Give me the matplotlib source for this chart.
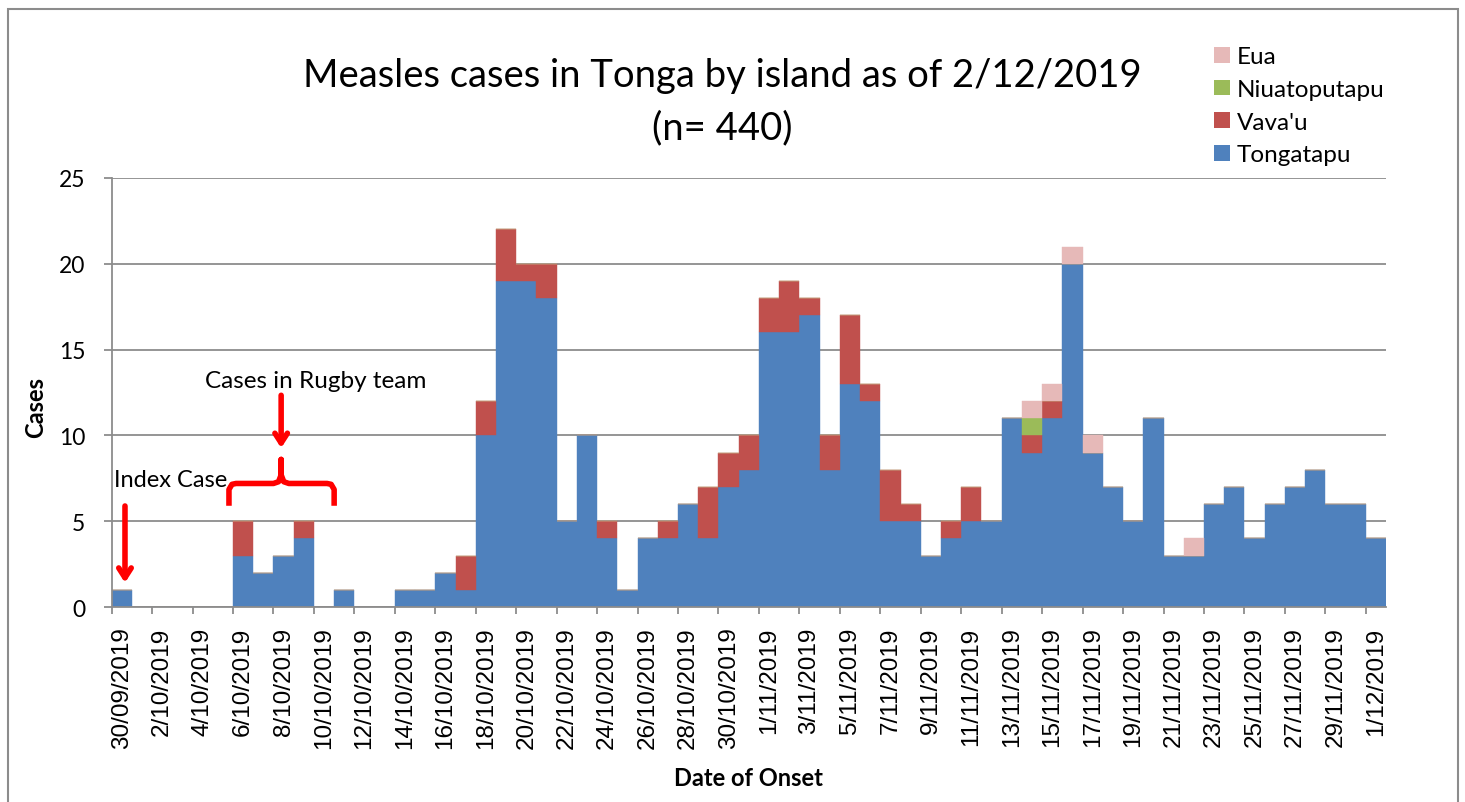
import matplotlib
matplotlib.use("Agg")
import matplotlib.pyplot as plt
from matplotlib.patches import Patch, Rectangle
import numpy as np
import pandas as pd

# ---------------- data (cases per day of onset, 30/09/2019 .. 1/12/2019) ----------------
dates = pd.date_range("2019-09-30", "2019-12-01", freq="D")
date_labels = [f"{d.day}/{d.month:02d}/{d.year}" for d in dates]

tongatapu = [1, 0, 0, 0, 0, 0, 3, 2, 3, 4, 0, 1, 0, 0, 1, 1, 2, 1, 10, 19,
             19, 18, 5, 10, 4, 1, 4, 4, 6, 4, 7, 8, 16, 16, 17, 8, 13, 12, 5, 5,
             3, 4, 5, 5, 11, 9, 11, 20, 9, 7, 5, 11, 3, 3, 6, 7, 4, 6, 7, 8,
             6, 6, 4]
vavau = [0, 0, 0, 0, 0, 0, 2, 0, 0, 1, 0, 0, 0, 0, 0, 0, 0, 2, 2, 3,
         1, 2, 0, 0, 1, 0, 0, 1, 0, 3, 2, 2, 2, 3, 1, 2, 4, 1, 3, 1,
         0, 1, 2, 0, 0, 1, 1, 0, 0, 0, 0, 0, 0, 0, 0, 0, 0, 0, 0, 0,
         0, 0, 0]
niuatoputapu = [0] * 63
niuatoputapu[45] = 1
eua = [0] * 63
eua[45] = 1
eua[46] = 1
eua[47] = 1
eua[48] = 1
eua[53] = 1

series_names = ["Tongatapu", "Vava'u", "Niuatoputapu", "Eua"]
series_vals = [tongatapu, vavau, niuatoputapu, eua]
series_cols = ["#4F81BD", "#C0504D", "#9BBB59", "#E6B9B8"]

# ---------------- figure ----------------
fig = plt.figure(figsize=(14.65, 8.03), dpi=100)
ax = fig.add_axes([0.0762, 0.2428, 0.8699, 0.5343])

x = np.arange(len(dates))
bottom = np.zeros(len(dates))
for name, vals, col in zip(series_names, series_vals, series_cols):
    vals = np.array(vals)
    ax.bar(x, vals, width=1.0, bottom=bottom, color=col, edgecolor=col,
           linewidth=0.3, label=name, zorder=3)
    bottom += vals

ax.set_xlim(-0.5, len(dates) - 0.5)
ax.set_ylim(0, 25)
ax.set_yticks([0, 5, 10, 15, 20, 25])
ax.yaxis.grid(True, color="#8C8C8C", linewidth=1.3, zorder=0)
ax.set_axisbelow(True)

for s in ["top", "right"]:
    ax.spines[s].set_visible(False)
for s in ["left", "bottom"]:
    ax.spines[s].set_color("#8C8C8C")
    ax.spines[s].set_linewidth(1.3)
    ax.spines[s].set_zorder(4)

# major ticks = marks between every 2 days, minor ticks = date labels
ax.set_xticks(np.arange(-0.5, len(dates) - 1, 2))
ax.set_xticklabels([])
ax.set_xticks(x[::2], minor=True)
ax.set_xticklabels(date_labels[::2], minor=True, rotation=90,
                   fontfamily="Liberation Sans", fontsize=17.5)
ax.tick_params(axis="x", which="major", length=5, width=1.3, color="#8C8C8C")
ax.tick_params(axis="x", which="minor", length=0, pad=14)
ax.tick_params(axis="y", length=6, width=1.3, color="#8C8C8C", pad=13,
               labelsize=16.5)
for t in ax.get_yticklabels():
    t.set_fontfamily("Lato")

fig.text(36 / 1465, 1 - 408 / 803, "Cases", rotation=90, ha="center",
         va="center", fontfamily="Lato", fontweight="bold", fontsize=17)
ax.set_xlabel("Date of Onset", fontfamily="Lato", fontweight="bold",
              fontsize=17, labelpad=13)

# title
fig.text(0.493, 0.905, "Measles cases in Tonga by island as of 2/12/2019",
         ha="center", va="center", fontfamily="Lato", fontsize=27.5)
fig.text(0.493, 0.84, "(n= 440)", ha="center", va="center",
         fontfamily="Lato", fontsize=27.5)

# legend (reverse stacking order)
handles = [Patch(facecolor=c) for c in series_cols[::-1]]
fig.legend(handles, series_names[::-1], loc="upper left",
           bbox_to_anchor=(0.829, 0.941), frameon=False, borderpad=0,
           borderaxespad=0, prop={"family": "Lato", "size": 17.5},
           handlelength=0.62, handleheight=0.62, handletextpad=0.3,
           labelspacing=0.48)

# annotations
red_arrow = dict(arrowstyle="->, head_length=0.7, head_width=0.45",
                 color="#FF0000", lw=4)
ax.annotate("", xy=(0.16, 1.25), xytext=(0.16, 6.05), arrowprops=red_arrow,
            zorder=6)
ax.text(-0.4, 7.45, "Index Case", fontfamily="Lato", fontsize=17,
        va="center", ha="left", zorder=6)
ax.annotate("", xy=(7.88, 9.1), xytext=(7.88, 12.5), arrowprops=red_arrow,
            zorder=6)
ax.text(4.1, 13.2, "Cases in Rugby team", fontfamily="Lato", fontsize=17.5,
        va="center", ha="left", zorder=6)

# curly brace over the rugby team days
bx = [5.3, 5.3, 5.45, 5.65, 7.5, 7.75, 7.88, 7.88, 7.88, 8.01, 8.26, 10.15, 10.35, 10.5, 10.5]
by = [5.9, 6.85, 7.15, 7.2, 7.2, 7.3, 7.7, 8.6, 7.7, 7.3, 7.2, 7.2, 7.15, 6.85, 5.9]
ax.plot(bx, by, color="#FF0000", lw=4, solid_capstyle="butt",
        solid_joinstyle="round", zorder=6, clip_on=False)

# outer chart border
fig.patches.append(Rectangle((0.0055, -0.05), 0.9897, 1.0375,
                             transform=fig.transFigure, fill=False,
                             edgecolor="#8C8C8C", linewidth=1.5))

fig.savefig("out.png", dpi=100, facecolor="white")
